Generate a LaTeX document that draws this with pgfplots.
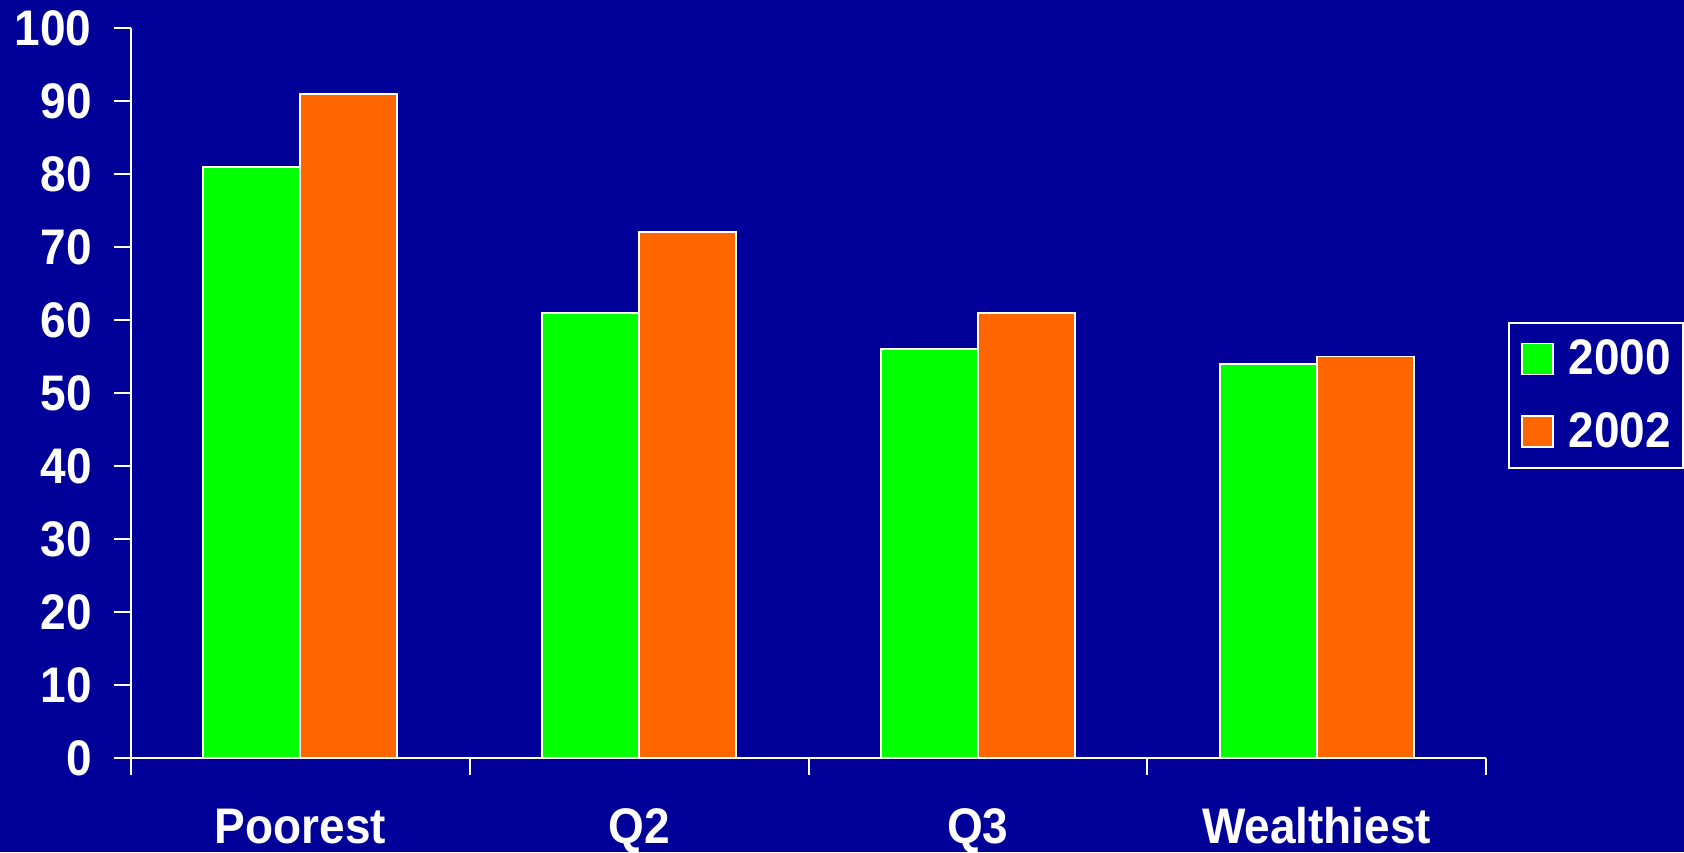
\documentclass[border=0pt]{standalone}
\usepackage{fontspec}
\setmainfont{Liberation Sans}
\newfontfamily\chartfamily[FakeStretch=0.92]{Liberation Sans}
\usepackage{pgfplots}
\pgfplotsset{compat=1.18}

\definecolor{bgblue}{RGB}{0,0,153}
\definecolor{bargreen}{RGB}{0,255,0}
\definecolor{barorange}{RGB}{255,102,0}

\newcommand{\chartfont}{\chartfamily\bfseries\fontsize{25}{29}\selectfont}

\begin{document}
\begin{tikzpicture}
  % page background
  \fill[bgblue] (-65.5pt,-47pt) rectangle (776.5pt,379pt);
  \begin{axis}[
    scale only axis,
    width=677.5pt, height=365pt,
    xmin=-0.5, xmax=3.5,
    ymin=0, ymax=100,
    axis lines*=left,
    axis line style={white, line width=1pt, -},
    every tick/.style={white, line width=1pt},
    tick align=outside,
    major tick length=8.5pt,
    ybar=0pt,
    bar width=48.5pt,
    ytick={0,10,...,100},
    xtick={-0.5,0.5,1.5,2.5,3.5},
    xticklabels={},
    extra x ticks={0,1,2,3},
    extra x tick labels={Poorest,Q2,Q3,Wealthiest},
    extra x tick style={major tick length=0pt,
      xticklabel style={anchor=base, yshift=-42.5pt}},
    /pgf/number format/assume math mode=true,
    ticklabel style={font=\chartfont, text=white},
    yticklabel style={anchor=east, inner sep=0pt, xshift=-11pt},
    legend style={
      at={(1.01624,0.5973)}, anchor=north west,
      draw=white, line width=1pt, fill=bgblue,
      font=\chartfont, text=white,
      inner xsep=6pt, inner ysep=8.5pt,
      row sep=17.5pt, column sep=7.5pt,
      nodes={inner sep=0pt},
      legend cell align=left,
    },
    legend image code/.code={%
      \draw[#1, draw=white, line width=0.9pt] (0pt,-7.75pt) rectangle (15.5pt,7.75pt);},
  ]
    \addplot[fill=bargreen, draw=white, line width=0.9pt]
      coordinates {(0,81) (1,61) (2,56) (3,54)};
    \addplot[fill=barorange, draw=white, line width=0.9pt]
      coordinates {(0,91) (1,72) (2,61) (3,55)};
    \legend{2000,2002}
  \end{axis}
  \pgfresetboundingbox
  \path (-65.5pt,-47pt) rectangle (776.5pt,379pt);
\end{tikzpicture}
\end{document}
